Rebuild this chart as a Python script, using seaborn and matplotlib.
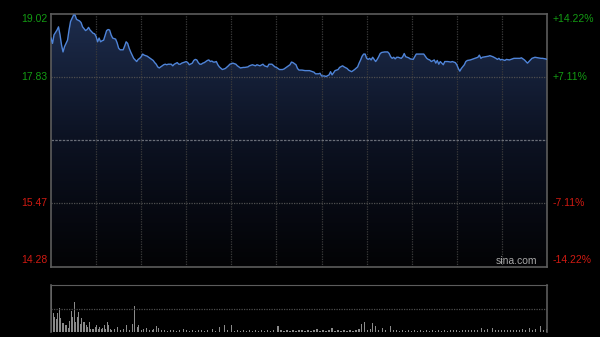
import numpy as np
import pandas as pd
import matplotlib
matplotlib.use("Agg")
import matplotlib.pyplot as plt
import seaborn as sns
from matplotlib.colors import LinearSegmentedColormap
from matplotlib.transforms import blended_transform_factory

# ---------------- data ----------------
prev_close = 16.65
price_levels = [19.02, 17.83, 15.47, 14.28]
price_labels = ["19.02", "17.83", "15.47", "14.28"]
pct_labels = ["+14.22%", "+7.11%", "-7.11%", "-14.22%"]

minute = [0, 1, 2, 4, 5, 6, 7, 8, 9, 11, 12, 13, 14, 15, 16, 17, 19, 20, 21, 23,
          24, 25, 26, 28, 29, 30, 31, 32, 33, 34, 35, 37, 38, 39, 40, 41, 43, 44, 45, 46,
          48, 49, 50, 51, 52, 53, 54, 55, 56, 57, 58, 59, 60, 61, 62, 64, 65, 66, 67, 68,
          69, 70, 71, 72, 74, 75, 76, 77, 78, 79, 80, 81, 82, 84, 85, 86, 87, 88, 89, 90,
          91, 92, 94, 95, 96, 97, 98, 99, 100, 101, 102, 104, 105, 106, 107, 108, 109,
          110, 111, 112, 114, 116, 118, 119, 121, 123, 124, 126, 128, 129, 131, 132, 134,
          136, 137, 139, 141, 142, 144, 145, 147, 149, 150, 152, 154, 155, 157, 159, 160,
          161, 163, 164, 165, 167, 169, 170, 172, 174, 175, 176, 178, 179, 180, 182, 183,
          185, 186, 187, 188, 189, 191, 192, 194, 195, 197, 198, 200, 201, 202, 204, 205,
          206, 207, 208, 209, 210, 211, 212, 213, 214, 215, 216, 217, 218, 219,
          220, 222, 224, 225, 226, 227, 228, 229, 230, 231, 233, 234, 235, 236, 238, 239,
          241, 242, 243, 246, 248, 249, 250, 251, 252, 253, 255, 256, 257, 258, 259, 260,
          261, 262, 264, 266, 267, 269, 270, 271, 272, 273, 275, 276, 277, 279, 281, 282,
          284, 285, 286, 287, 289, 291, 292, 294, 296, 297, 298, 299, 300, 302, 303, 305,
          307, 308, 310, 312, 313, 315, 317, 318, 319, 320, 322, 324, 326, 327, 329, 330]

price = [18.56, 18.46, 18.62, 18.71, 18.77, 18.62, 18.43, 18.30, 18.40, 18.52, 18.71, 18.87, 18.93, 18.99, 18.99, 18.91, 18.88, 18.85, 18.77, 18.70,
         18.72, 18.76, 18.71, 18.65, 18.64, 18.59, 18.49, 18.56, 18.49, 18.51, 18.52, 18.70, 18.72, 18.71, 18.62, 18.56, 18.54, 18.47, 18.37, 18.34,
         18.34, 18.41, 18.49, 18.46, 18.37, 18.30, 18.24, 18.18, 18.15, 18.12, 18.16, 18.18, 18.21, 18.26, 18.24, 18.22, 18.20, 18.18, 18.16, 18.14,
         18.10, 18.07, 18.02, 18.00, 18.04, 18.06, 18.07, 18.06, 18.07, 18.07, 18.07, 18.04, 18.07, 18.10, 18.07, 18.07, 18.09, 18.10, 18.11, 18.12,
         18.10, 18.06, 18.09, 18.14, 18.16, 18.15, 18.10, 18.07, 18.07, 18.09, 18.10, 18.14, 18.15, 18.12, 18.13, 18.11, 18.11,
         18.12, 18.06, 18.02, 17.97, 17.99, 18.04, 18.07, 18.09, 18.07, 18.04, 18.00, 18.01, 18.01, 18.02, 18.04, 18.06,
         18.04, 18.06, 18.04, 18.07, 18.04, 18.02, 18.07, 18.07, 18.02, 18.01, 17.97, 17.97, 17.98, 18.02, 18.06, 18.11,
         18.10, 18.06, 17.99, 17.96, 17.96, 17.95, 17.95, 17.95, 17.93, 17.92, 17.89, 17.89, 17.90, 17.85, 17.85, 17.84,
         17.87, 17.93, 17.87, 17.91, 17.95, 17.97, 18.01, 18.04, 18.02, 17.99, 17.96, 17.93, 17.95, 17.97, 18.02, 18.09,
         18.15, 18.22, 18.26, 18.26, 18.18, 18.16, 18.18, 18.15, 18.20, 18.16, 18.12, 18.16, 18.21, 18.27,
         18.29, 18.30, 18.30, 18.27, 18.21, 18.18, 18.20, 18.17, 18.20, 18.20, 18.18, 18.21, 18.27, 18.21, 18.19, 18.17,
         18.16, 18.21, 18.26, 18.26, 18.26, 18.22, 18.18, 18.16, 18.15, 18.12, 18.15, 18.09, 18.14, 18.07, 18.12, 18.09,
         18.06, 18.12, 18.12, 18.11, 18.12, 18.10, 18.06, 17.99, 17.94, 17.99, 18.06, 18.12, 18.14, 18.15, 18.17, 18.18,
         18.20, 18.24, 18.18, 18.20, 18.21, 18.22, 18.23, 18.21, 18.18, 18.16, 18.18, 18.15, 18.16, 18.14, 18.16, 18.15,
         18.17, 18.18, 18.18, 18.18, 18.19, 18.15, 18.09, 18.12, 18.15, 18.18, 18.20, 18.19, 18.18, 18.18, 18.17, 18.16]

vol_minute = list(range(40)) + [
    40, 42, 44, 46, 48, 50, 52, 54, 55, 57, 58, 60, 61, 63, 65, 67, 68, 70, 71, 73,
    75, 77, 79, 81, 83, 85, 88, 90, 92, 94, 96, 98, 100, 102, 104, 107, 109, 112, 115, 117,
    120, 122, 124, 126, 128, 130, 132, 134, 136, 138, 140, 142, 144, 146, 148, 151, 153, 155, 157, 159,
    161, 163, 165, 167, 169, 171, 173, 175, 177, 179, 181, 183, 185, 187, 189, 191, 193, 195, 197, 199,
    201, 203, 205, 207, 209, 211, 213, 214, 216, 218, 221, 223, 226, 228, 230, 232, 234, 236, 238, 240,
    242, 244, 246, 248, 250, 252, 254, 256, 258, 260, 262, 264, 266, 268, 270, 272, 274, 276, 278, 280,
    282, 284, 287, 289, 291, 294, 296, 298, 300, 302, 304, 306, 308, 310, 312, 314, 316, 319, 321, 323,
    326, 328, 330]
volume = [100, 40, 31, 28, 41, 52, 29, 19, 19, 14, 14, 8, 24, 45, 31, 63, 21, 31, 43, 17,
          29, 22, 21, 14, 10, 22, 7, 6, 7, 10, 14, 7, 10, 7, 8, 15, 7, 21, 14, 7] + [
    5, 6, 10, 5, 6, 14, 5, 17, 55, 10, 14, 5, 6, 8, 4, 5, 6, 12, 8, 4,
    5, 3, 4, 5, 3, 4, 7, 4, 3, 4, 3, 5, 4, 3, 4, 7, 3, 10, 14, 4,
    14, 3, 4, 3, 4, 3, 4, 3, 4, 3, 4, 3, 4, 3, 4, 12, 4, 3, 4, 3,
    4, 3, 4, 5, 3, 4, 3, 4, 7, 3, 4, 3, 4, 9, 3, 4, 3, 4, 3, 4,
    3, 5, 6, 17, 21, 5, 6, 19, 12, 5, 8, 4, 12, 5, 4, 3, 4, 3, 4, 3,
    4, 3, 4, 3, 4, 3, 4, 3, 4, 3, 4, 3, 4, 5, 4, 3, 4, 5, 4, 5,
    4, 5, 8, 5, 7, 8, 4, 5, 4, 5, 4, 5, 4, 5, 4, 6, 5, 9, 5, 6,
    12, 5, 6]

# ---------------- figure ----------------
W, H = 600, 337
fig = plt.figure(figsize=(W / 100, H / 100), dpi=100, facecolor="black")
ax = fig.add_axes([51 / W, 1 - 266.5 / H, 496 / W, 253 / H])
axv = fig.add_axes([51 / W, 1 - 332 / H, 496 / W, 47 / H])

ymin, ymax = price_levels[-1], price_levels[0]
xmax = 330

ax.set_facecolor("black")
df = pd.DataFrame({"minute": minute, "price": price})
sns.lineplot(data=df, x="minute", y="price", ax=ax, color="#4f84d8", lw=1.0, zorder=6)

poly = ax.fill_between(minute, price, ymin, color="none", lw=0)
grad = np.linspace(1, 0, 256).reshape(-1, 1)
cmap = LinearSegmentedColormap.from_list("g", ["#030305", "#0c1222", "#1d2c4c"])
im = ax.imshow(grad, extent=[0, xmax, ymin, ymax], aspect="auto", cmap=cmap,
               origin="upper", zorder=1, interpolation="bilinear")
im.set_clip_path(poly.get_paths()[0], ax.transData)

for m in np.arange(30, xmax, 30):
    ax.axvline(m, color="#3a3a3a", lw=0.9, ls=(0, (1, 1)), zorder=2)
for lv in price_levels[1:3]:
    ax.axhline(lv, color="#4e4e4e", lw=0.9, ls=(0, (1, 1)), zorder=2)
ax.axhline(prev_close, color="#6a6e78", lw=0.9, ls=(0, (2, 1)), zorder=2)

ax.set_xlim(0, xmax)
ax.set_ylim(ymin, ymax)
ax.set_xticks([])
ax.set_yticks([])
ax.set_xlabel("")
ax.set_ylabel("")
for s in ax.spines.values():
    s.set_color("#5c5c5c")
    s.set_linewidth(1.2)

trans = blended_transform_factory(ax.transAxes, ax.transData)
colors = ["#139b13", "#139b13", "#d01a12", "#d01a12"]
vas = ["top", "center", "center", "bottom"]
offs = [0.0, 0, 0, 0.02]
for lv, lab, pl, c, va, o in zip(price_levels, price_labels, pct_labels, colors, vas, offs):
    ax.text(-0.008, lv + o, lab, transform=trans, ha="right", va=va, color=c,
            fontsize=7.5, family="Liberation Sans")
    ax.text(1.012, lv + o, pl, transform=trans, ha="left", va=va, color=c,
            fontsize=7.5, family="Liberation Sans")

ax.text(0.98, 0.003, "sina.com", transform=ax.transAxes, ha="right", va="bottom",
        color="#a8a8a8", fontsize=7.5, family="Liberation Sans", zorder=7)

# volume
axv.set_facecolor("black")
sns.barplot(x=vol_minute, y=volume, native_scale=True, ax=axv, color="#8a8a8a",
            errorbar=None, width=0.75, linewidth=0, saturation=1)
axv.axhline(50, color="#4e4e4e", lw=0.9, ls=(0, (1, 1)))
axv.set_xlim(-0.5, xmax + 0.5)
axv.set_ylim(0, 100)
axv.set_xticks([])
axv.set_yticks([])
axv.set_xlabel("")
axv.set_ylabel("")
for side in ["left", "right"]:
    axv.spines[side].set_color("#5c5c5c")
    axv.spines[side].set_linewidth(1.2)
axv.spines["top"].set_color("#5c5c5c")
axv.spines["top"].set_linestyle((0, (1, 1)))
axv.spines["bottom"].set_visible(False)

fig.savefig("out.png", dpi=100, facecolor="black")
